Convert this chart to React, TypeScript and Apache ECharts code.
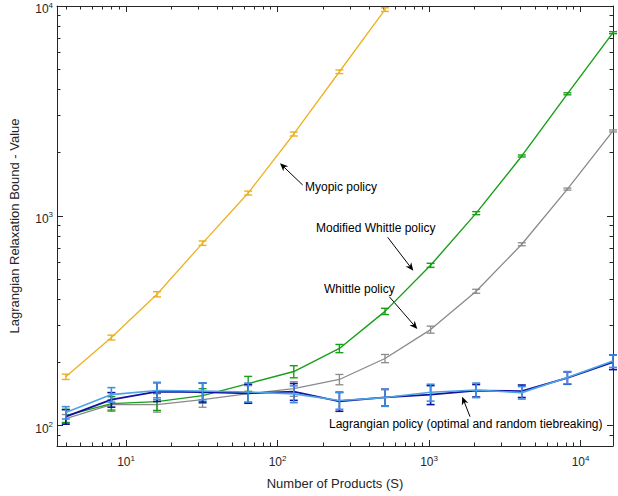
import React, { useEffect, useRef } from "react";
import * as echarts from "echarts";

const products = [4, 8, 16, 32, 64, 128, 256, 512, 1024, 2048, 4096, 8192, 16384];
const myopic = [171, 263, 423, 741, 1284, 2455, 4860, 9613];
const myopicErr = [5, 7, 12, 18, 28, 54, 97, 190];
const modWhittle = [111.6, 127.4, 130.2, 139.1, 158.7, 181.1, 233.3, 350.5, 581, 1030, 1929, 3815, 7464];
const modWhittleErr = [8, 10, 12, 11, 13, 12, 10.5, 12, 13, 17, 21, 42, 82];
const whittle = [108, 126, 126, 133, 142, 150, 166, 209, 287, 437, 732, 1341, 2539];
const whittleErr = [5, 7, 10, 10.6, 13, 12, 9.4, 9.4, 11, 9.7, 12, 15, 28];
const lagOpt = [110.4, 133.1, 145.4, 144.6, 142.7, 145.4, 130.7, 136.5, 140.6, 147, 146.2, 169, 201];
const lagOptErr = [8.8, 10.6, 15, 15, 14.8, 13.4, 13.6, 12.6, 14.6, 10, 10, 11.5, 16];
const lagRand = [115.4, 140.6, 147, 146.2, 144.6, 141.7, 131.7, 136.1, 144.2, 147.8, 143.7, 169.6, 203.3];
const lagRandErr = [7.8, 11.2, 13.5, 13.4, 15, 13, 12, 12.5, 13.3, 11.8, 9.8, 11.5, 13.8];

const xMajor = [10, 100, 1000, 10000];
const xMinor = [4, 5, 6, 7, 8, 9, 20, 30, 40, 50, 60, 70, 80, 90, 200, 300, 400, 500, 600, 700, 800, 900, 2000, 3000, 4000, 5000, 6000, 7000, 8000, 9000];
const yMajor = [100, 1000, 10000];
const yMinor = [80, 90, 200, 300, 400, 500, 600, 700, 800, 900, 2000, 3000, 4000, 5000, 6000, 7000, 8000, 9000];

const FONT = "'Liberation Sans', Arial, Helvetica, sans-serif";
const AX = "#262626";

const supFormatter = (v: number) => `{b|10}{s|${Math.round(Math.log10(v))}}`;
const rich = {
  b: { fontSize: 12, color: AX, fontFamily: FONT },
  s: { fontSize: 8, color: AX, fontFamily: FONT, verticalAlign: "bottom", padding: [0, 0, 8, 0] },
};

function xAxisDef(position: string, vals: number[], len: number, showLine: boolean, labels: boolean) {
  return {
    type: "log",
    logBase: 10,
    min: 3.5,
    max: 16384,
    position,
    axisLine: { show: showLine, lineStyle: { color: AX, width: 1 } },
    axisTick: { show: true, inside: true, length: len, customValues: vals, lineStyle: { color: AX, width: 1 } },
    axisLabel: labels
      ? { show: true, customValues: vals, formatter: supFormatter, rich, margin: 8 }
      : { show: false },
    splitLine: { show: false },
    minorTick: { show: false },
  };
}
function yAxisDef(position: string, vals: number[], len: number, showLine: boolean, labels: boolean) {
  return {
    type: "log",
    logBase: 10,
    min: 80,
    max: 10000,
    position,
    axisLine: { show: showLine, lineStyle: { color: AX, width: 1 } },
    axisTick: { show: true, inside: true, length: len, customValues: vals, lineStyle: { color: AX, width: 1 } },
    axisLabel: labels
      ? { show: true, customValues: vals, formatter: supFormatter, rich, margin: 4, padding: [6, 0, 0, 0] }
      : { show: false },
    splitLine: { show: false },
    minorTick: { show: false },
  };
}

function lineSeries(name: string, ys: number[], color: string, width: number, z: number) {
  return {
    name,
    type: "line",
    data: ys.map((y, i) => [products[i], y]),
    symbol: "none",
    lineStyle: { color, width },
    itemStyle: { color },
    z,
    silent: true,
  };
}
function errSeries(name: string, ys: number[], errs: number[], color: string, width: number, z: number) {
  return {
    name: name + " err",
    type: "custom",
    data: ys.map((y, i) => [products[i], y, errs[i]]),
    encode: { x: 0, y: 1 },
    z,
    silent: true,
    renderItem: (params: any, api: any) => {
      const x = api.value(0);
      const y = api.value(1);
      const e = api.value(2);
      const lo = api.coord([x, y - e]);
      const hi = api.coord([x, y + e]);
      const w = 4;
      const st = { stroke: color, lineWidth: width };
      return {
        type: "group",
        children: [
          { type: "line", shape: { x1: lo[0], y1: lo[1], x2: hi[0], y2: hi[1] }, style: st },
          { type: "line", shape: { x1: hi[0] - w, y1: hi[1], x2: hi[0] + w, y2: hi[1] }, style: st },
          { type: "line", shape: { x1: lo[0] - w, y1: lo[1], x2: lo[0] + w, y2: lo[1] }, style: st },
        ],
      };
    },
  };
}

function arrow(x1: number, y1: number, x2: number, y2: number) {
  const dx = x2 - x1;
  const dy = y2 - y1;
  const L = Math.sqrt(dx * dx + dy * dy);
  const ux = dx / L;
  const uy = dy / L;
  const px = -uy;
  const py = ux;
  const hl = 8;
  const hw = 3.5;
  const bx = x2 - ux * hl;
  const by = y2 - uy * hl;
  const nx = x2 - ux * hl * 0.7;
  const ny = y2 - uy * hl * 0.7;
  return [
    { type: "line", shape: { x1, y1, x2: nx, y2: ny }, style: { stroke: "#000", lineWidth: 1 }, silent: true },
    {
      type: "polygon",
      shape: { points: [[x2, y2], [bx + px * hw, by + py * hw], [nx, ny], [bx - px * hw, by - py * hw]] },
      style: { fill: "#000" },
      silent: true,
    },
  ];
}
function label(text: string, x: number, y: number) {
  return {
    type: "text",
    x,
    y,
    style: { text, fill: "#000", font: `12px ${FONT}`, textAlign: "left", textVerticalAlign: "middle" },
    silent: true,
  };
}

export default function App() {
  const ref = useRef<HTMLDivElement>(null);
  useEffect(() => {
    document.body.style.margin = "0";
    const chart = echarts.init(ref.current!, null, { renderer: "svg" });
    const option: any = {
      animation: false,
      backgroundColor: "#ffffff",
      textStyle: { fontFamily: FONT },
      grid: { left: 54, right: 5, top: 6, bottom: 50, containLabel: false },
      xAxis: [
        {
          ...xAxisDef("bottom", xMajor, 6, true, true),
          name: "Number of Products (S)",
          nameLocation: "middle",
          nameGap: 31,
          nameTextStyle: { fontSize: 13, color: AX, fontFamily: FONT },
        },
        xAxisDef("bottom", xMinor, 3.5, false, false),
        xAxisDef("top", xMajor, 6, true, false),
        xAxisDef("top", xMinor, 3.5, false, false),
      ],
      yAxis: [
        {
          ...yAxisDef("left", yMajor, 6, true, true),
          name: "Lagrangian Relaxation Bound - Value",
          nameLocation: "middle",
          nameGap: 36,
          nameTextStyle: { fontSize: 13, color: AX, fontFamily: FONT },
        },
        yAxisDef("left", yMinor, 3.5, false, false),
        yAxisDef("right", yMajor, 6, true, false),
        yAxisDef("right", yMinor, 3.5, false, false),
      ],
      series: [
        lineSeries("Whittle policy", whittle, "#8a8a8a", 1.3, 2),
        errSeries("Whittle policy", whittle, whittleErr, "#8a8a8a", 1.3, 2),
        lineSeries("Modified Whittle policy", modWhittle, "#17a017", 1.4, 3),
        errSeries("Modified Whittle policy", modWhittle, modWhittleErr, "#17a017", 1.4, 3),
        lineSeries("Lagrangian optimal", lagOpt, "#1212a0", 1.8, 4),
        errSeries("Lagrangian optimal", lagOpt, lagOptErr, "#1212a0", 1.6, 4),
        lineSeries("Lagrangian random", lagRand, "#4da3e6", 1.6, 5),
        errSeries("Lagrangian random", lagRand, lagRandErr, "#3f8fe0", 1.6, 5),
        lineSeries("Myopic policy", myopic, "#edb120", 1.3, 6),
        errSeries("Myopic policy", myopic, myopicErr, "#edb120", 1.4, 6),
      ],
      graphic: [
        ...arrow(302.7, 185, 280, 163.3),
        label("Myopic policy", 305, 187),
        ...arrow(387.7, 237.3, 413.3, 270.7),
        label("Modified Whittle policy", 316, 228),
        ...arrow(389.3, 296.7, 417.3, 329),
        label("Whittle policy", 324, 289),
        ...arrow(470, 416.7, 462.2, 396.7),
        label("Lagrangian policy (optimal and random tiebreaking)", 329, 424),
      ],
    };
    option.series.forEach((s: any) => {
      s.xAxisIndex = 0;
      s.yAxisIndex = 0;
    });
    chart.setOption(option);
    return () => chart.dispose();
  }, []);
  return <div ref={ref} style={{ position: "fixed", left: 0, top: 0, width: 618, height: 496 }} />;
}
